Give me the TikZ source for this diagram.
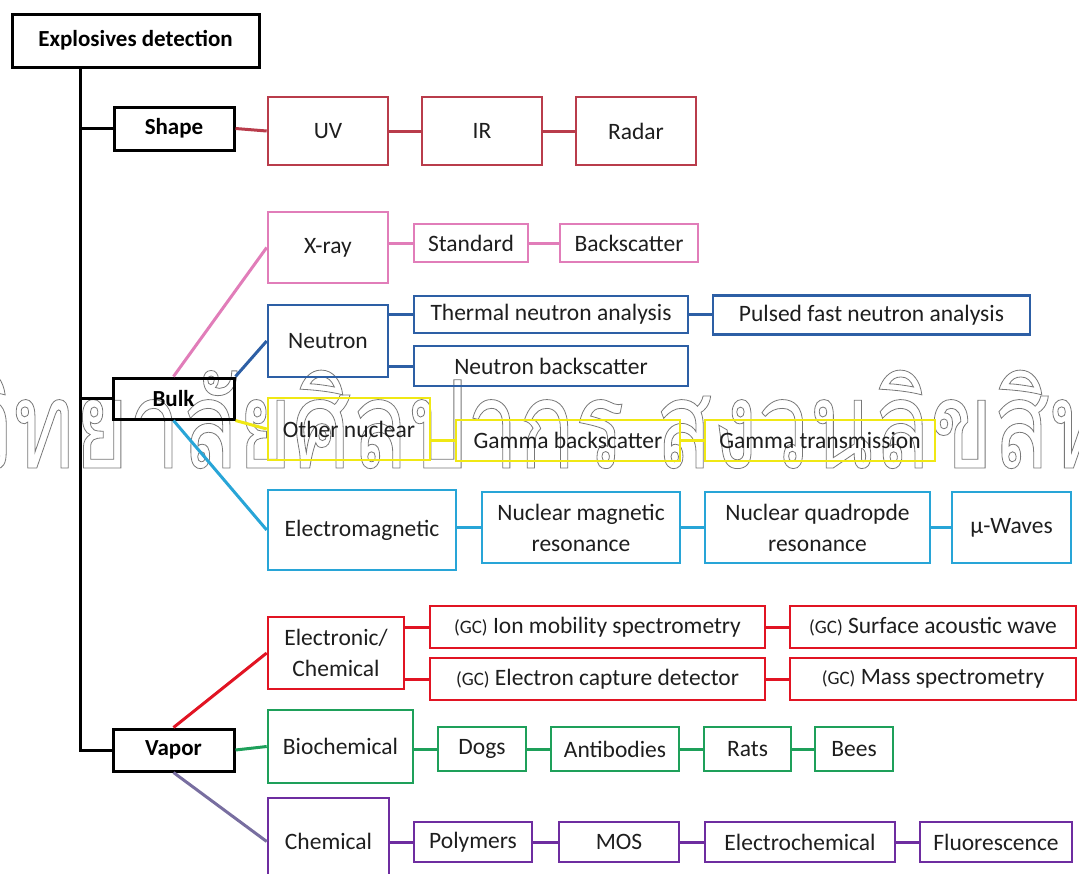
\documentclass[tikz,border=0pt]{standalone}
\usepackage{fontspec}
\setmainfont{Carlito}
\newfontfamily\thaifont[Script=Thai,FakeStretch=0.76]{Loma}
\definecolor{txt}{RGB}{30,30,30}
\definecolor{cshape}{RGB}{185,60,75}
\definecolor{cpink}{RGB}{225,125,185}
\definecolor{cblue}{RGB}{45,95,165}
\definecolor{cyel}{RGB}{240,232,20}
\definecolor{ccyan}{RGB}{40,165,215}
\definecolor{cred}{RGB}{225,20,35}
\definecolor{cgreen}{RGB}{30,160,90}
\definecolor{cpurp}{RGB}{110,45,160}
\definecolor{cgrayp}{RGB}{120,110,160}
\definecolor{wmark}{RGB}{120,120,120}
\newcommand{\gc}{{\fontsize{19}{19}\selectfont(GC)}}
\begin{document}
\begin{tikzpicture}[x=1pt,y=-1pt,
  bx/.style={draw=#1, line width=2.6pt, inner sep=0pt, align=center, text=txt,
    font=\fontsize{23.5}{31}\selectfont},
  sz/.style 2 args={minimum width=#1pt, minimum height=#2pt},
  cn/.style={draw=#1, line width=3pt},
  bk/.style={draw=black, line width=3pt, inner sep=0pt, text=black,
    font=\bfseries\fontsize{23}{28}\selectfont}]
\useasboundingbox (0,0) rectangle (1079,873);
\clip (0,0) rectangle (1079,873);

% watermark
\node[anchor=base west, inner sep=0pt, text=wmark] (wm) at (-39,468)
  {\special{pdf:literal direct 1 Tr 0.8 w}\thaifont\fontsize{122}{122}\selectfont\llap{มหา}วิทยาลัยศิลปากร สงวนลิขสิทธิ์\special{pdf:literal direct 0 Tr}};

% main nodes
\node[bk, sz={247}{53}] (root) at (135.5,40.5) {Explosives detection};
\node[bk, sz={120}{43}] (shape) at (174,128.5) {Shape};
\node[bk, sz={121}{41}] (bulk) at (173.5,398.5) {Bulk};
\node[bk, sz={121}{42}] (vapor) at (173.5,750) {Vapor};

% shape
\node[bx=cshape, sz={120}{68}] (uv) at (328,131) {UV};
\node[bx=cshape, sz={120}{68}] (ir) at (482,131) {IR};
\node[bx=cshape, sz={120}{68}] (radar) at (636,131) {Radar};

% bulk
\node[bx=cpink, sz={120}{71}] (xray) at (328,247.5) {X-ray};
\node[bx=cpink, sz={114}{38}] (std) at (471,243) {Standard};
\node[bx=cpink, sz={138}{38}] (bsc) at (629,243) {Backscatter};

\node[bx=cblue, sz={120}{72}] (neutron) at (328,341) {Neutron};
\node[bx=cblue, sz={274}{37}] (tna) at (551,314.5) {Thermal neutron analysis};
\node[bx=cblue, sz={317}{39}] (pfna) at (871.5,315) {Pulsed fast neutron analysis};
\node[bx=cblue, sz={274}{40}] (nbs) at (551,366) {Neutron backscatter};

\node[bx=cyel, sz={162}{62}] (onuc) at (349,429) {Other nuclear};
\node[bx=cyel, sz={224}{41}] (gbs) at (568,440.5) {Gamma backscatter};
\node[bx=cyel, sz={230}{41}] (gtr) at (820,440.5) {Gamma transmission};

\node[bx=ccyan, sz={188}{80}] (em) at (362,530) {Electromagnetic};
\node[bx=ccyan, sz={198}{71}] (nmr) at (581,527.5) {Nuclear magnetic\\resonance};
\node[bx=ccyan, sz={225}{71}] (nqr) at (817.5,527.5) {Nuclear quadropde\\resonance};
\node[bx=ccyan, sz={119}{71}] (mu) at (1011.5,527.5) {µ-Waves};

% vapor
\node[bx=cred, sz={136}{72}] (elec) at (336,653) {Electronic/\\Chemical};
\node[bx=cred, sz={335}{42}] (ims) at (597.5,627) {\gc{} Ion mobility spectrometry};
\node[bx=cred, sz={286}{42}] (saw) at (933,627) {\gc{} Surface acoustic wave};
\node[bx=cred, sz={335}{42}] (ecd) at (597.5,679) {\gc{} Electron capture detector};
\node[bx=cred, sz={286}{42}] (ms) at (933,679) {\gc{} Mass spectrometry};

\node[bx=cgreen, sz={145}{73}] (bio) at (340.5,746.5) {Biochemical};
\node[bx=cgreen, sz={88}{44}] (dogs) at (482,749) {Dogs};
\node[bx=cgreen, sz={128}{44}] (anti) at (615,749) {Antibodies};
\node[bx=cgreen, sz={87}{44}] (rats) at (747.5,749) {Rats};
\node[bx=cgreen, sz={78}{44}] (bees) at (854,749) {Bees};

\node[bx=cpurp, sz={121}{87}] (chem) at (328.5,841.5) {Chemical};
\node[bx=cpurp, sz={118}{40}] (poly) at (473,842) {Polymers};
\node[bx=cpurp, sz={120}{40}] (mos) at (619,842) {MOS};
\node[bx=cpurp, sz={190}{40}] (echem) at (800,842) {Electrochemical};
\node[bx=cpurp, sz={152}{40}] (fluor) at (996,842) {Fluorescence};

% trunk
\coordinate (tk) at (80,750);
\draw[cn=black] (root.south -| tk) -- (tk) -- (vapor.west);
\draw[cn=black] (shape.west) -- (shape.west -| tk);
\draw[cn=black] (bulk.west) -- (bulk.west -| tk);

% shape connectors
\draw[cn=cshape] (shape.east) -- (uv.west);
\draw[cn=cshape] (uv) -- (ir);
\draw[cn=cshape] (ir) -- (radar);

% bulk connectors
\draw[cn=cpink] (bulk.north) -- (xray.west);
\draw[cn=cpink] (xray.east |- std) -- (std.west);
\draw[cn=cpink] (std) -- (bsc);
\draw[cn=cblue] (bulk.north east) -- (neutron.west);
\draw[cn=cblue] (neutron.east |- tna) -- (tna.west);
\draw[cn=cblue] (neutron.east |- nbs) -- (nbs.west);
\draw[cn=cblue] (tna.east) -- (tna.east -| pfna.west);
\draw[cn=cyel] (bulk.south east) -- (onuc.west);
\draw[cn=cyel] (onuc.east |- gbs) -- (gbs.west);
\draw[cn=cyel] (gbs) -- (gtr);
\draw[cn=ccyan] (bulk.south) -- (em.west);
\draw[cn=ccyan] (em.east |- nmr) -- (nmr.west);
\draw[cn=ccyan] (nmr) -- (nqr);
\draw[cn=ccyan] (nqr) -- (mu);

% vapor connectors
\draw[cn=cred] (vapor.north) -- (elec.west);
\draw[cn=cred] (elec.east |- ims) -- (ims.west);
\draw[cn=cred] (elec.east |- ecd) -- (ecd.west);
\draw[cn=cred] (ims) -- (saw);
\draw[cn=cred] (ecd) -- (ms);
\draw[cn=cgreen] (vapor.east) -- (bio.west);
\draw[cn=cgreen] (bio.east |- dogs) -- (dogs.west);
\draw[cn=cgreen] (dogs) -- (anti);
\draw[cn=cgreen] (anti) -- (rats);
\draw[cn=cgreen] (rats) -- (bees);
\draw[cn=cgrayp] (vapor.south) -- (chem.west);
\draw[cn=cpurp] (chem.east |- poly) -- (poly.west);
\draw[cn=cpurp] (poly) -- (mos);
\draw[cn=cpurp] (mos) -- (echem);
\draw[cn=cpurp] (echem) -- (fluor);
\end{tikzpicture}
\end{document}
